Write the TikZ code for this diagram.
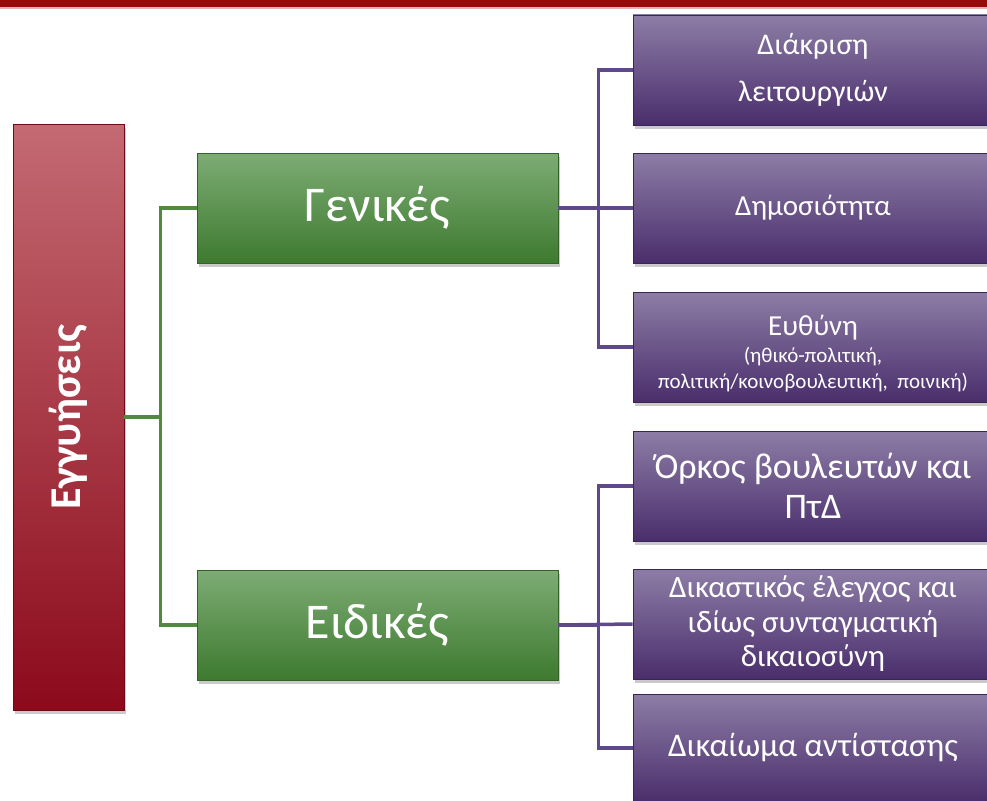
\documentclass[tikz,border=0pt]{standalone}
\usepackage{fontspec}
\setmainfont{Carlito}
\usetikzlibrary{shadows}
\definecolor{barred}{HTML}{990A0A}
\definecolor{barpink}{HTML}{E2B4B4}
\definecolor{redtop}{HTML}{C46A72}
\definecolor{redbot}{HTML}{8C0A1B}
\definecolor{greentop}{HTML}{7DAC75}
\definecolor{greenbot}{HTML}{3E7A2F}
\definecolor{purptop}{HTML}{8D7DA6}
\definecolor{purpbot}{HTML}{4A2E6C}
\definecolor{greenline}{HTML}{4F8A3F}
\definecolor{purpline}{HTML}{5E4A8A}
\tikzset{
  basebox/.style={rectangle, inner sep=0pt, line width=0.8pt, text=white, align=center,
    drop shadow={shadow xshift=2pt, shadow yshift=-4pt, opacity=0.35, fill=black!60}},
  redbox/.style={basebox, top color=redtop, bottom color=redbot, draw=redbot!80!black},
  greenbox/.style={basebox, top color=greentop, bottom color=greenbot, draw=greenbot!80!black,
    minimum width=361pt, minimum height=110pt, font=\fontsize{50}{56}\selectfont},
  purpbox/.style={basebox, top color=purptop, bottom color=purpbot, draw=purpbot!80!black,
    minimum width=360pt, minimum height=110pt, font=\fontsize{29}{36}\selectfont},
  boxtext/.style={text=white, align=center, inner sep=0pt},
  greenconn/.style={draw=greenline, line width=3.5pt},
  purpconn/.style={draw=purpline, line width=3.5pt},
}
\begin{document}
\begin{tikzpicture}[x=1pt,y=-1pt]
  \useasboundingbox (0,0) rectangle (987,800);
  % header rule
  \fill[barred] (0,0) rectangle (987,7);
  \fill[barpink] (0,7) rectangle (987,9);

  % root
  \node[redbox, minimum width=111pt, minimum height=586pt] (egg) at (68.5,417) {};
  \node[rotate=90, text=white, font=\fontsize{44}{50}\selectfont\bfseries] (eggtxt) at (egg.center) {Εγγυήσεις};

  % second level
  \node[greenbox] (gen) at (377.5,208) {Γενικές};
  \node[greenbox] (eid) at (377.5,625) {Ειδικές};

  % leaves
  \node[purpbox, font=\fontsize{30}{47}\selectfont] (p1) at (813,70) {Διάκριση\\λειτουργιών};
  \node[purpbox] (p2) at (813,208) {Δημοσιότητα};
  \node[purpbox] (p3) at (813,347) {};
  \node[boxtext, font=\fontsize{29}{30}\selectfont, anchor=base] (p3a) at (813,335) {Ευθύνη};
  \node[boxtext, font=\fontsize{21}{26}\selectfont, anchor=base] (p3b) at (813,362) {(ηθικό-πολιτική,};
  \node[boxtext, font=\fontsize{21}{26}\selectfont, anchor=base] (p3c) at (813,388) {πολιτική/κοινοβουλευτική,\ \ ποινική)};
  \node[purpbox, font=\fontsize{36}{40}\selectfont] (p4) at (813,486) {Όρκος βουλευτών και\\ΠτΔ};
  \node[purpbox, font=\fontsize{31}{34.5}\selectfont] (p5) at (813,624) {Δικαστικός έλεγχος και\\ιδίως συνταγματική\\δικαιοσύνη};
  \node[purpbox, font=\fontsize{33}{38}\selectfont, minimum height=108pt] (p6) at (813,748) {Δικαίωμα αντίστασης};

  % connectors
  \draw[greenconn] (egg.east) -- ++(36,0) |- (gen.west);
  \draw[greenconn] (egg.east) -- ++(36,0) |- (eid.west);
  \draw[purpconn] (gen.east) -- ++(40,0) |- (p1.west);
  \draw[purpconn] (gen.east) -- (p2.west);
  \draw[purpconn] (gen.east) -- ++(40,0) |- (p3.west);
  \draw[purpconn] (eid.east) -- ++(40,0) |- (p4.west);
  \draw[purpconn] (eid.east) -- (p5.west);
  \draw[purpconn] (eid.east) -- ++(40,0) |- (p6.west);
\end{tikzpicture}
\end{document}
